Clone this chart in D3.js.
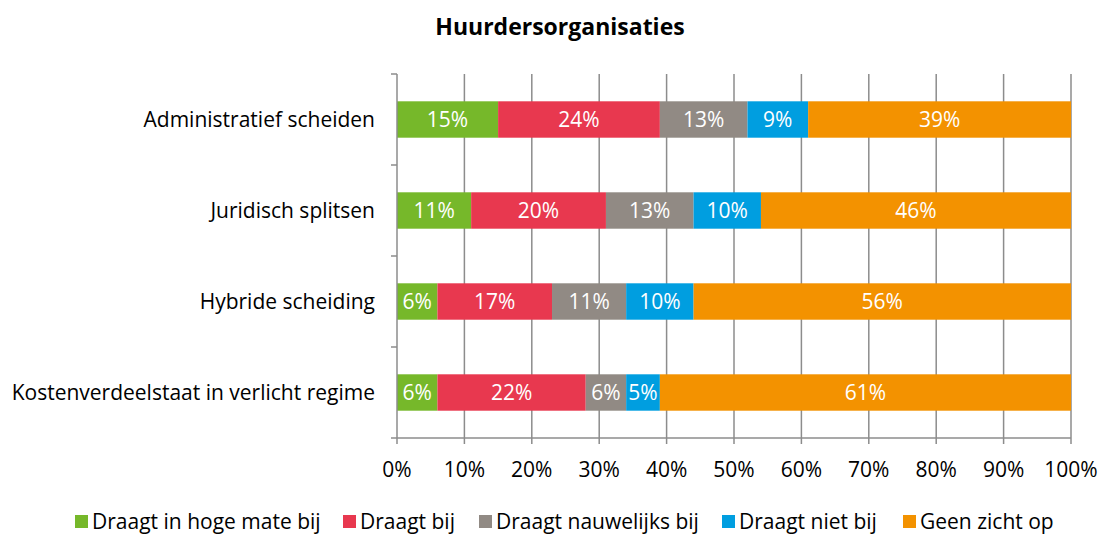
<!DOCTYPE html>
<html><head><meta charset="utf-8">
<script src="https://cdn.jsdelivr.net/npm/d3@7"></script>
<style>body{margin:0;background:#fff;} text{font-family:"Open Sans","Noto Sans",sans-serif;}</style>
</head><body><svg id="c" width="1099" height="534"></svg>
<script>
const title = "Huurdersorganisaties";
const categories = ["Administratief scheiden","Juridisch splitsen","Hybride scheiding","Kostenverdeelstaat in verlicht regime"];
const seriesNames = ["Draagt in hoge mate bij","Draagt bij","Draagt nauwelijks bij","Draagt niet bij","Geen zicht op"];
const seriesColors = ["#76b82a","#e8384f","#918a84","#009ee0","#f39200"];
const hogeMate = [15,11,6,6];
const draagtBij = [24,20,17,22];
const nauwelijks = [13,13,11,6];
const nietBij = [9,10,10,5];
const geenZicht = [39,46,56,61];
const xTicks = [0,10,20,30,40,50,60,70,80,90,100];

const values = [hogeMate,draagtBij,nauwelijks,nietBij,geenZicht];
const svg = d3.select("#c");
const m = {left:397,right:1071,top:74,bottom:438};
const x = d3.scaleLinear().domain([0,100]).range([m.left,m.right]);
const y = d3.scaleBand().domain(categories).range([m.top,m.bottom]).paddingInner(0.6).paddingOuter(0.3);
const yb = d3.scaleBand().domain(categories).range([m.top,m.bottom]);
const fs = "21px";

svg.append("text").attr("x",560).attr("y",35).attr("text-anchor","middle")
  .style("font-size","23px").style("font-weight","bold").text(title);

// gridlines
svg.append("g").selectAll("line").data(xTicks.slice(1)).join("line")
  .attr("x1",d=>x(d)).attr("x2",d=>x(d)).attr("y1",m.top).attr("y2",m.bottom+6)
  .attr("stroke","#8c8c8c").attr("stroke-width",1.5);

// stacked bars
const rows = categories.map((c,i)=>{let acc=0; return values.map((s,k)=>{const r={cat:c,k,v:s[i],x0:acc}; acc+=s[i]; return r;});}).flat();
const g = svg.append("g");
g.selectAll("rect").data(rows).join("rect")
  .attr("x",d=>x(d.x0)).attr("width",d=>x(d.x0+d.v)-x(d.x0))
  .attr("y",d=>y(d.cat)).attr("height",y.bandwidth())
  .attr("fill",d=>seriesColors[d.k]);
g.selectAll("text").data(rows).join("text")
  .attr("x",d=>x(d.x0+d.v/2)).attr("y",d=>y(d.cat)+y.bandwidth()/2)
  .attr("dy","0.35em").attr("text-anchor","middle").attr("fill","#fff")
  .style("font-size",fs).text(d=>d.v+"%");

// y axis line and ticks
const ax = svg.append("g").attr("stroke","#8c8c8c").attr("stroke-width",1.5);
ax.append("line").attr("x1",m.left).attr("x2",m.left).attr("y1",m.top).attr("y2",m.bottom+6);
const yTickPos = categories.map(c=>yb(c)).concat([m.bottom]);
ax.selectAll(".yt").data(yTickPos).join("line").attr("class","yt")
  .attr("x1",m.left-6).attr("x2",m.left).attr("y1",d=>d).attr("y2",d=>d);
ax.append("line").attr("x1",m.left).attr("x2",m.right).attr("y1",m.bottom).attr("y2",m.bottom);

// category labels
svg.append("g").selectAll("text").data(categories).join("text")
  .attr("x",375).attr("y",d=>yb(d)+yb.bandwidth()/2).attr("dy","0.35em")
  .attr("text-anchor","end").style("font-size",fs).attr("fill","#000").text(d=>d);

// x tick labels
svg.append("g").selectAll("text").data(xTicks).join("text")
  .attr("x",d=>x(d)).attr("y",470).attr("dy","0.35em").attr("text-anchor","middle")
  .style("font-size",fs).text(d=>d+"%");

// legend
const legX = [75,343,479,722,903];
const lg = svg.append("g").selectAll("g").data(seriesNames).join("g")
  .attr("transform",(d,i)=>`translate(${legX[i]},522)`);
lg.append("rect").attr("x",0).attr("y",-7).attr("width",13).attr("height",13).attr("fill",(d,i)=>seriesColors[i]);
lg.append("text").attr("x",17).attr("y",0).attr("dy","0.35em").style("font-size",fs).text(d=>d);
</script></body></html>
